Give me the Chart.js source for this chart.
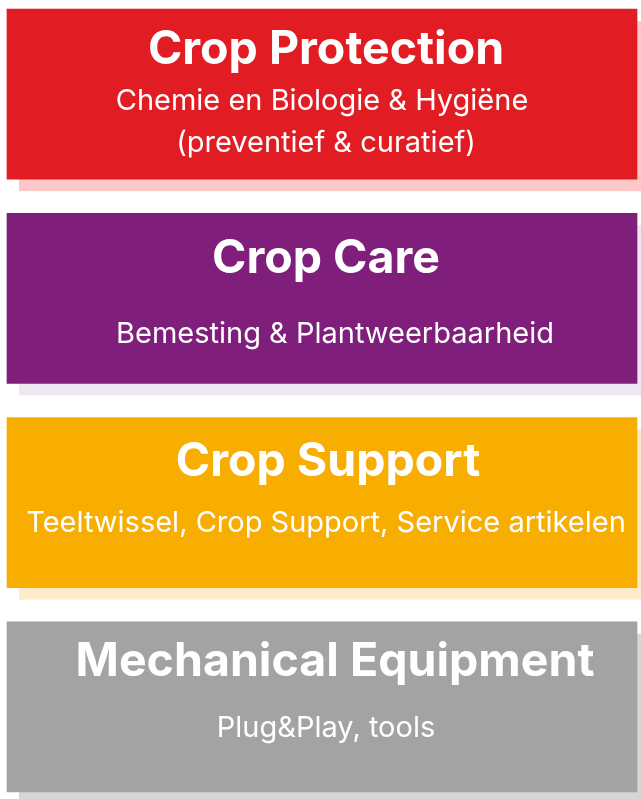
<!DOCTYPE html>
<html>
<head>
<meta charset="utf-8">
<script src="https://cdn.jsdelivr.net/npm/chart.js@4/dist/chart.umd.min.js"></script>
<style>
  html, body { margin: 0; padding: 0; background: #fff; overflow: hidden; }
  #wrap { position: relative; width: 641px; height: 799px; overflow: hidden; }
  #blocks { position: absolute; left: 0; top: -8px; }
</style>
</head>
<body>
<div id="wrap">
  <canvas id="blocks" width="641" height="817"></canvas>
</div>
<script>
const categories = ['Crop Protection', 'Crop Care', 'Crop Support', 'Mechanical Equipment'];
const subtitles = [
    ['Chemie en Biologie & Hygiëne', '(preventief & curatief)'],
    ['Bemesting & Plantweerbaarheid'],
    ['Teeltwissel, Crop Support, Service artikelen'],
    ['Plug&Play, tools']
];
// every block spans the full width (0..100 %)
const spanStart = [0, 0, 0, 0];
const spanEnd = [100, 100, 100, 100];

const fillColors = ['#e11c23', '#7f1f7b', '#f7ae00', '#a3a3a3'];
const shadowColors = ['#ffc8c8', '#eee6f1', '#feebca', '#d6d6d6'];

// text placement, relative to each block (baseline from top, x shift from centre)
const titleOffset = [55, 60, 58, 54];
const titleShift = [4, 4, 6, 13];
const subOffset = [[101, 143], [130], [114], [115]];
const subShift = [[0, 4], [13], [4], [4]];

const shadowPlugin = {
    id: 'blockShadow',
    beforeDatasetsDraw(chart) {
        const ctx = chart.ctx;
        const meta = chart.getDatasetMeta(0);
        meta.data.forEach((bar, i) => {
            const p = bar.getProps(['x', 'y', 'base', 'height'], true);
            const left = Math.min(p.x, p.base);
            const w = Math.abs(p.x - p.base);
            ctx.save();
            ctx.fillStyle = shadowColors[i];
            ctx.fillRect(left + 12, p.y - p.height / 2 + 12, w, p.height);
            ctx.restore();
        });
    }
};

const labelPlugin = {
    id: 'blockLabels',
    afterDatasetsDraw(chart) {
        const ctx = chart.ctx;
        const meta = chart.getDatasetMeta(0);
        meta.data.forEach((bar, i) => {
            const p = bar.getProps(['x', 'y', 'base', 'height'], true);
            const cx = (p.x + p.base) / 2;
            const top = p.y - p.height / 2;
            ctx.save();
            ctx.fillStyle = '#ffffff';
            ctx.textAlign = 'center';
            ctx.textBaseline = 'alphabetic';
            ctx.font = 'bold 46.5px Inter';
            ctx.fillText(categories[i], cx + titleShift[i], top + titleOffset[i]);
            ctx.font = '29px Inter';
            subtitles[i].forEach((line, j) => {
                ctx.fillText(line, cx + subShift[i][j], top + subOffset[i][j]);
            });
            ctx.restore();
        });
    }
};

new Chart(document.getElementById('blocks').getContext('2d'), {
    type: 'bar',
    data: {
        labels: categories,
        datasets: [{
            data: spanStart.map((s, i) => [s, spanEnd[i]]),
            backgroundColor: fillColors,
            borderWidth: 0,
            borderSkipped: false,
            barThickness: 170
        }]
    },
    options: {
        indexAxis: 'y',
        responsive: false,
        animation: false,
        layout: { padding: 0 },
        plugins: {
            legend: { display: false },
            tooltip: { enabled: false }
        },
        scales: {
            x: { type: 'linear', min: -1.11, max: 100.63, display: false },
            y: { display: false }
        }
    },
    plugins: [shadowPlugin, labelPlugin]
});
</script>
</body>
</html>
